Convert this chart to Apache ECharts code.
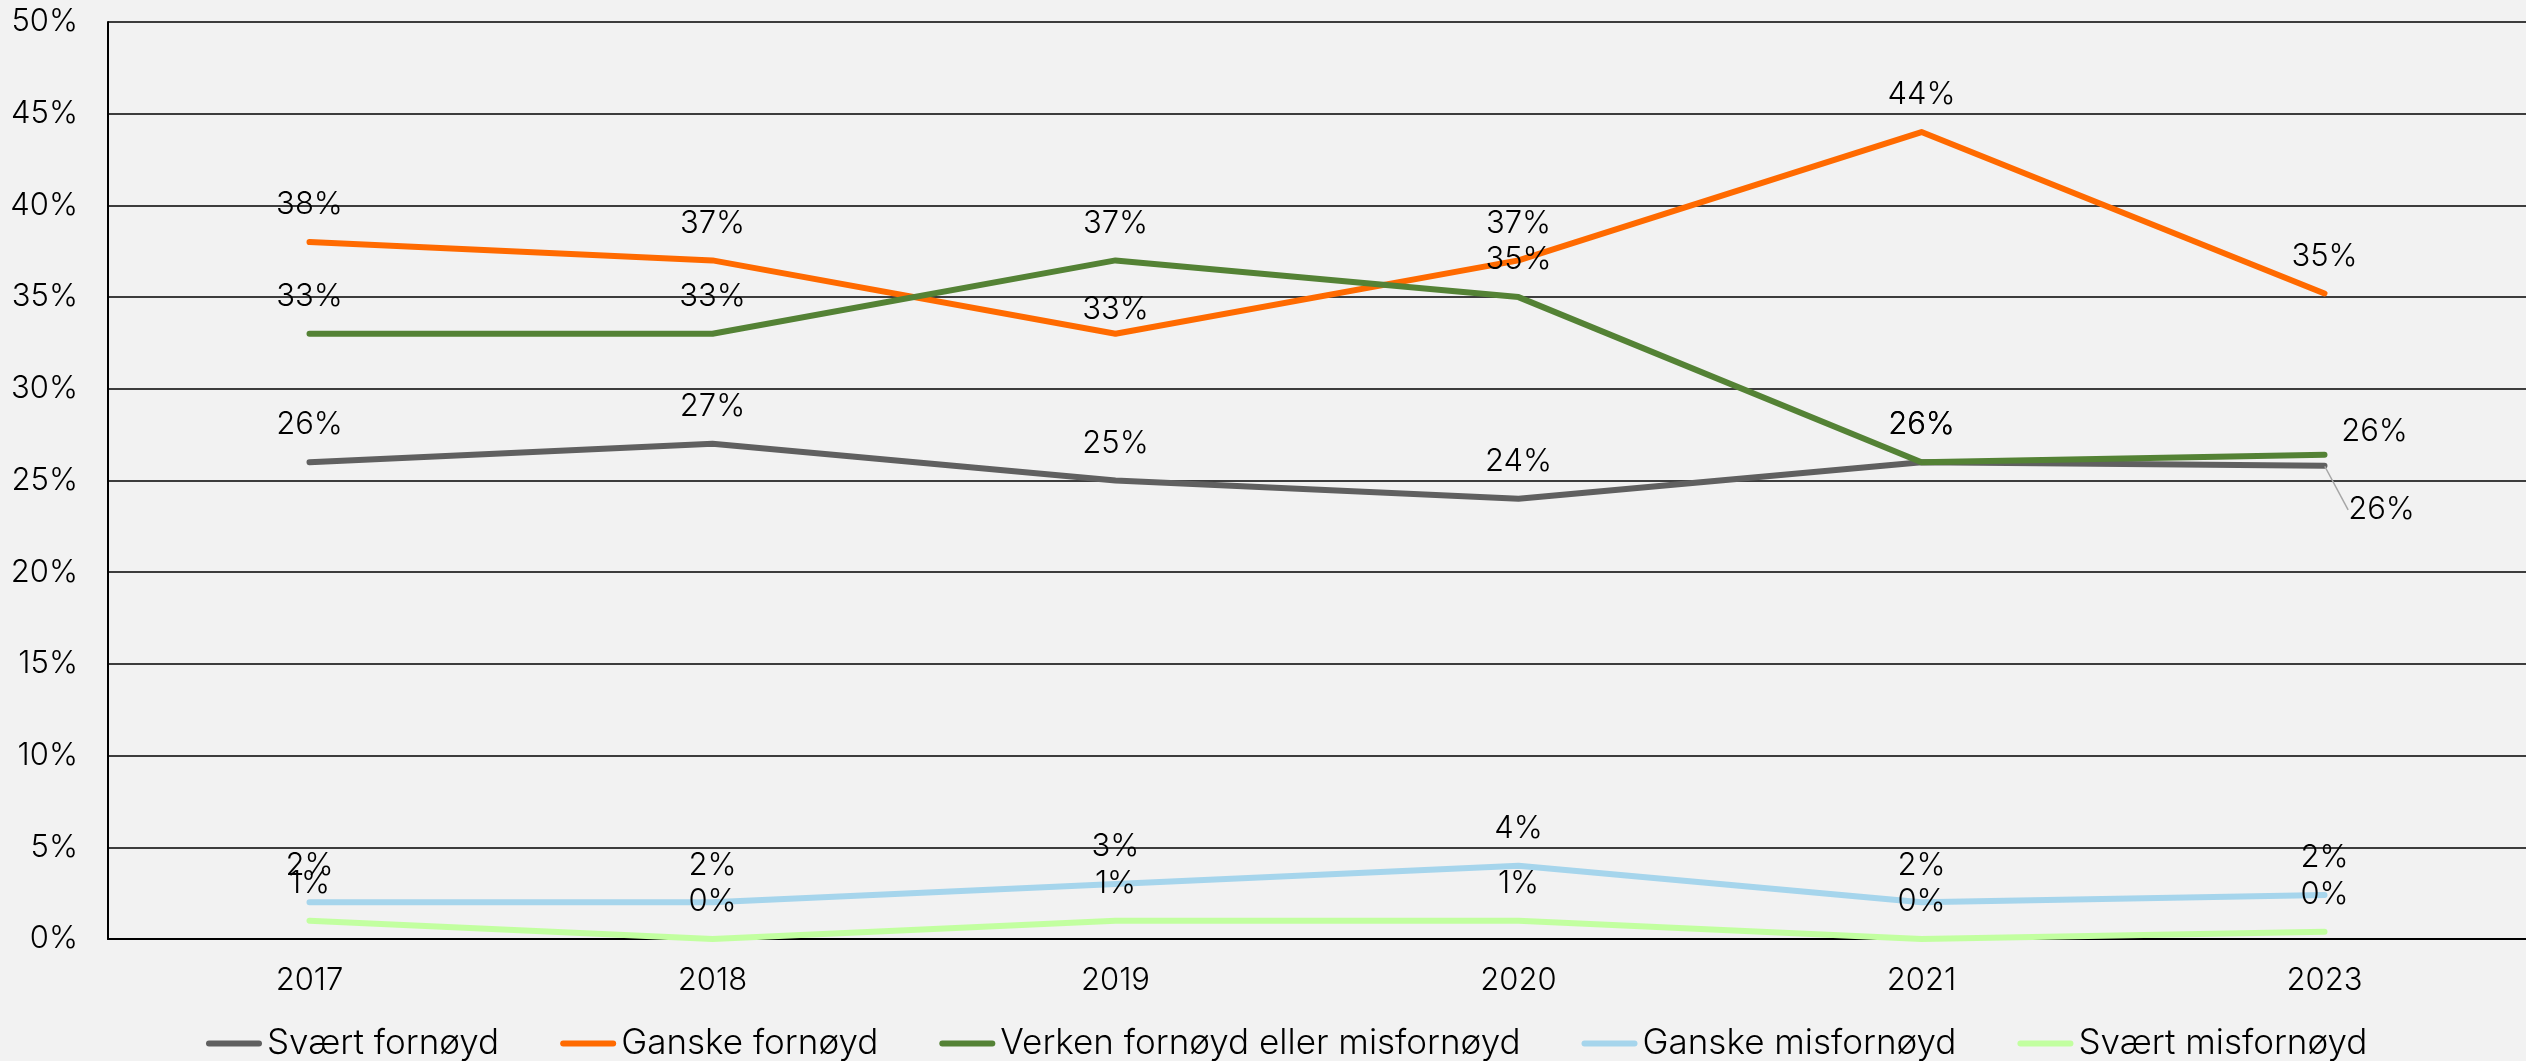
<!DOCTYPE html>
<html><head><meta charset="utf-8">
<script src="https://cdn.jsdelivr.net/npm/echarts@6/dist/echarts.min.js"></script>
<style>html,body{margin:0;padding:0;background:#F2F2F2;}#c{width:2526px;height:1061px;}</style>
</head><body><div id="c"></div>
<script>
const years = ['2017','2018','2019','2020','2021','2023'];
const svaertFornoyd = [26, 27, 25, 24, 26, 25.8];
const ganskeFornoyd = [38, 37, 33, 37, 44, 35.2];
const verken = [33, 33, 37, 35, 26, 26.4];
const ganskeMisfornoyd = [2, 2, 3, 4, 2, 2.4];
const svaertMisfornoyd = [1, 0, 1, 1, 0, 0.4];
const yTicks = [0, 5, 10, 15, 20, 25, 30, 35, 40, 45, 50];

const FONT = 'Inter';
const FW = 300;
const FS = 31;
const labelBase = {show: true, position: 'top', distance: 21, fontSize: FS, fontFamily: FONT, fontWeight: FW, color: '#000',
  formatter: p => Math.round(p.value) + '%'};

function mk(name, data, color, special) {
  return {
    name, type: 'line', data: data.map((v, i) => (special && special[i]) ? Object.assign({value: v}, special[i]) : v),
    symbol: 'circle', symbolSize: 1, showSymbol: true,
    lineStyle: {color, width: 6, cap: 'round', join: 'round'}, itemStyle: {color},
    label: labelBase, labelLine: {show: false, lineStyle: {color: '#A6A6A6', width: 1.5}}, z: 2
  };
}
const chart = echarts.init(document.getElementById('c'));
chart.setOption({
  backgroundColor: '#F2F2F2',
  animation: false,
  grid: {left: 108, right: 0, top: 22, bottom: 122, containLabel: false},
  xAxis: {type: 'category', data: years, boundaryGap: true,
    axisLine: {lineStyle: {color: '#000', width: 2}}, axisTick: {show: false},
    axisLabel: {fontSize: FS, fontFamily: FONT, fontWeight: FW, color: '#000', margin: 26}},
  yAxis: {type: 'value', min: yTicks[0], max: yTicks[yTicks.length - 1], interval: 5,
    axisLine: {show: true, lineStyle: {color: '#000', width: 2}}, axisTick: {show: false},
    splitLine: {lineStyle: {color: '#000', width: 1.6}},
    axisLabel: {fontSize: FS, fontFamily: FONT, fontWeight: FW, color: '#000', margin: 30, formatter: '{value}%'}},
  legend: {bottom: -5, left: 201, itemGap: 61, itemWidth: 56, itemHeight: 6,
    icon: 'path://M3,0 H53 A3,3 0 0 1 53,6 H3 A3,3 0 0 1 3,0 Z',
    textStyle: {fontSize: 35, fontFamily: FONT, fontWeight: FW, color: '#000'}},
  series: [
    mk('Svært fornøyd', svaertFornoyd, '#606060', {5: {label: {position: 'bottom', distance: 22}, labelLine: {show: true}}}),
    mk('Ganske fornøyd', ganskeFornoyd, '#FF6A00', {2: {label: {distance: 8}}}),
    mk('Verken fornøyd eller misfornøyd', verken, '#548235', {5: {label: {offset: [50, 14]}}}),
    mk('Ganske misfornøyd', ganskeMisfornoyd, '#A6D5EC'),
    mk('Svært misfornøyd', svaertMisfornoyd, '#C2FFA0')
  ]
});
// move the 2023 "Svært fornøyd" label aside; the library draws its guide line
chart.setOption({series: [{labelLayout: p => p.dataIndex === 5 ? {dx: 57, dy: 6} : null}]});
</script></body></html>
